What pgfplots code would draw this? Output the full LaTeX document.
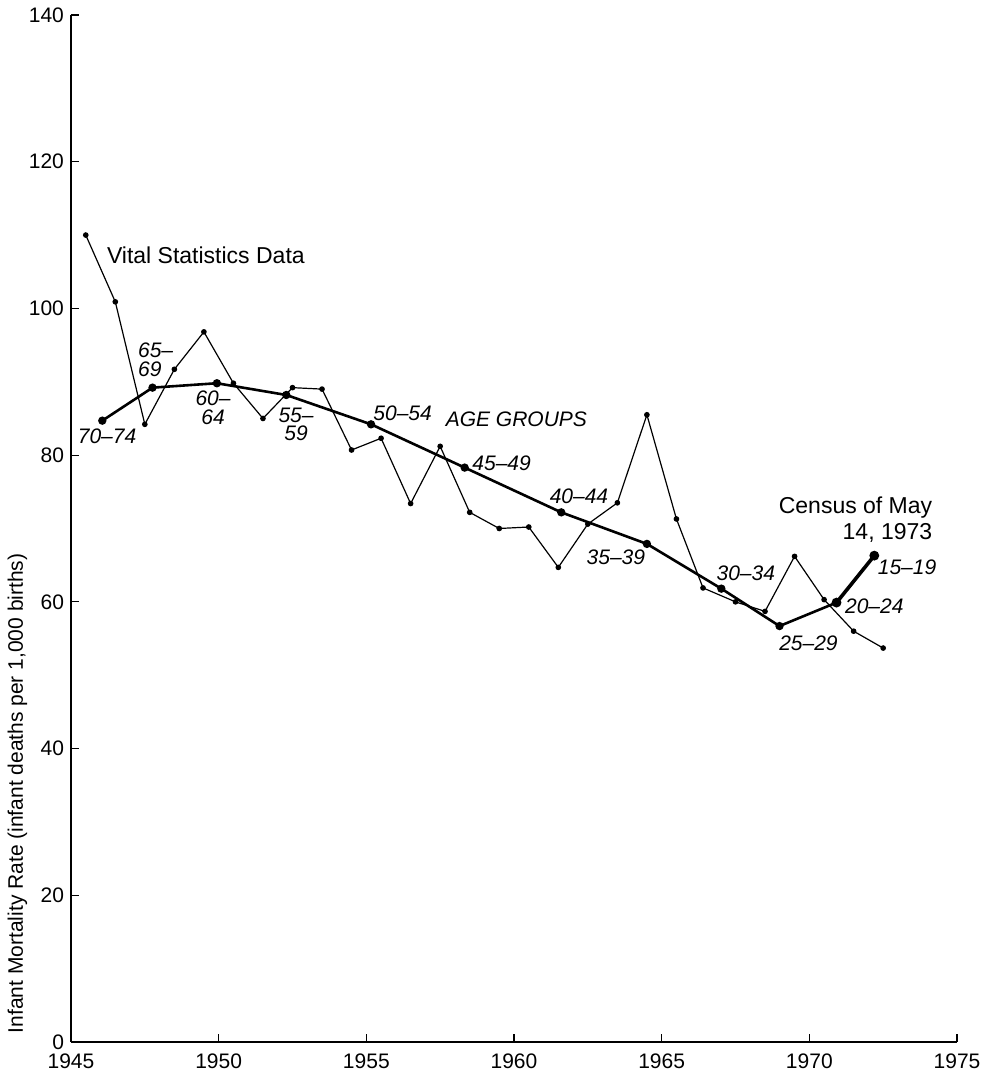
\documentclass[border=0pt]{standalone}
\usepackage{fontspec}
\setmainfont{Liberation Sans}
\usepackage{pgfplots}
\pgfplotsset{compat=1.18}
\pgfplotstableread{
x y
1945.5 110.0
1946.5 100.9
1947.5 84.2
1948.5 91.7
1949.5 96.8
1950.5 89.8
1951.5 85.0
1952.5 89.2
1953.5 89.0
1954.5 80.7
1955.5 82.3
1956.5 73.4
1957.5 81.2
1958.5 72.2
1959.5 70.0
1960.5 70.2
1961.5 64.7
1962.5 70.6
1963.5 73.5
1964.5 85.5
1965.5 71.3
1966.4 61.9
1967.5 60.0
1968.5 58.7
1969.5 66.2
1970.5 60.3
1971.5 56.0
1972.5 53.7
}\vital
\pgfplotstableread{
x y
1946.06 84.7
1947.76 89.2
1949.94 89.8
1952.29 88.2
1955.16 84.2
1958.33 78.3
1961.60 72.2
1964.50 67.9
1967.02 61.8
1968.99 56.7
1970.92 59.9
}\agegroups
\pgfplotstableread{
x y
1970.92 59.9
1972.20 66.3
}\census
\begin{document}
\begin{tikzpicture}
\begin{axis}[
  name=ax,
  scale only axis, width=443pt, height=513.5pt,
  xmin=1945, xmax=1975, ymin=0, ymax=140,
  axis x line=bottom, axis y line=left,
  axis line style={-, line width=0.9pt},
  xtick={1945,1950,...,1975}, ytick={0,20,...,140},
  tick align=inside, major tick length=4pt,
  tick style={line width=0.6pt, black},
  /pgf/number format/1000 sep={},
  /pgf/number format/assume math mode=true,
  tick label style={font=\fontsize{10.5}{12}\selectfont},
  xticklabel style={yshift=-2.5pt},
  clip=false,
]
\addplot[black, line width=0.6pt, mark=*, mark size=1.1pt] table {\vital};
\addplot[black, line width=1.3pt, mark=*, mark size=1.4pt] table {\agegroups};
\addplot[black, line width=1.8pt, mark=*, mark size=1.5pt] table {\census};

\node[anchor=west, font=\fontsize{11.5}{13}\selectfont] at (axis cs:1945.98,107.3) {Vital Statistics Data};
\node[anchor=east, align=right, font=\fontsize{11.5}{13}\selectfont] at (axis cs:1974.40,71.2) {Census of May\\14, 1973};

\begin{scope}[every node/.style={font=\fontsize{10.5}{9.4}\selectfont\itshape, inner sep=0pt}]
\node[anchor=west, align=left] at (axis cs:1947.26,93.0) {65--\\69};
\node[align=center] at (axis cs:1949.81,86.5) {60--\\64};
\node[align=center] at (axis cs:1952.62,84.2) {55--\\59};
\node at (axis cs:1946.22,82.6) {70--74};
\node at (axis cs:1956.23,85.7) {50--54};
\node at (axis cs:1960.08,84.9) {AGE GROUPS};
\node at (axis cs:1959.58,78.9) {45--49};
\node at (axis cs:1962.20,74.4) {40--44};
\node at (axis cs:1963.45,66.1) {35--39};
\node at (axis cs:1967.85,63.9) {30--34};
\node at (axis cs:1973.31,64.7) {15--19};
\node at (axis cs:1972.20,59.4) {20--24};
\node at (axis cs:1969.97,54.4) {25--29};
\end{scope}

\node[rotate=90, font=\fontsize{10.5}{12}\selectfont] at ([xshift=-26.75pt]axis cs:1945,33.9) {Infant Mortality Rate (infant deaths per 1,000 births)};
\end{axis}
\pgfresetboundingbox
\path[use as bounding box] ([shift={(-35.5pt,-18.5pt)}]ax.south west) rectangle ([shift={(13pt,7.5pt)}]ax.north east);
\end{tikzpicture}
\end{document}
